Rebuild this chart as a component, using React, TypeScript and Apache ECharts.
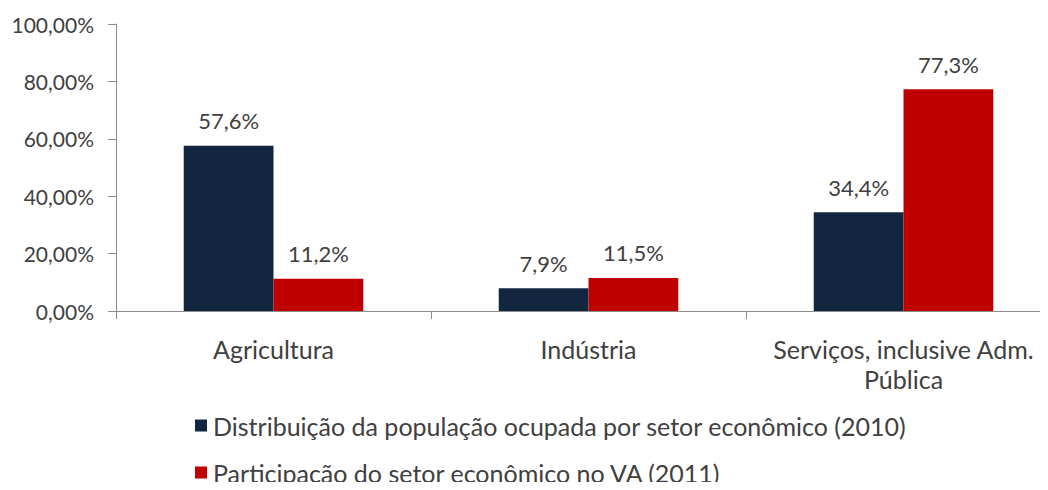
import React, { useEffect, useRef } from "react";
import * as echarts from "echarts";

const categories = ["Agricultura", "Indústria", "Serviços, inclusive Adm.\nPública"];
const seriesNames = [
  "Distribuição da população ocupada por setor econômico (2010)",
  "Participação do setor econômico no VA (2011)",
];
const populacao = [57.6, 7.9, 34.4];
const participacao = [11.2, 11.5, 77.3];
const yTicks = [0, 20, 40, 60, 80, 100];

const FONT = "Lato";
const TXT = "#404040";

export default function App() {
  const ref = useRef<HTMLDivElement>(null);
  useEffect(() => {
    if (!ref.current) return;
    const chart = echarts.init(ref.current, undefined, { renderer: "svg" });
    const label = {
      show: true,
      position: "top",
      distance: 14,
      color: TXT,
      fontFamily: FONT,
      fontSize: 22,
      formatter: (p: any) => p.value.toFixed(1).replace(".", ",") + "%",
    };
    chart.setOption({
      animation: false,
      textStyle: { fontFamily: FONT },
      grid: { left: 116, top: 24, bottom: 179, right: 4, containLabel: false },
      legend: {
        orient: "vertical",
        left: 190,
        top: 408,
        height: 200,
        itemWidth: 12,
        itemHeight: 12,
        itemGap: 22,
        icon: "rect",
        textStyle: { color: TXT, fontFamily: FONT, fontSize: 25, padding: [0, 0, 0, 1] },
        data: seriesNames,
      },
      xAxis: {
        type: "category",
        data: categories,
        axisLine: { lineStyle: { color: "#8c8c8c" } },
        axisTick: { show: true, length: 8, lineStyle: { color: "#8c8c8c" } },
        axisLabel: {
          interval: 0,
          color: TXT,
          fontFamily: FONT,
          fontSize: 25,
          margin: 23,
          lineHeight: 30,
        },
      },
      yAxis: {
        type: "value",
        min: yTicks[0],
        max: yTicks[yTicks.length - 1],
        interval: 20,
        splitLine: { show: false },
        axisLine: { show: true, lineStyle: { color: "#8c8c8c" } },
        axisTick: { show: true, length: 8, lineStyle: { color: "#8c8c8c" } },
        axisLabel: {
          color: TXT,
          fontFamily: FONT,
          fontSize: 21,
          margin: 22,
          formatter: (v: number) => v.toFixed(2).replace(".", ",") + "%",
        },
      },
      series: [
        {
          name: seriesNames[0],
          type: "bar",
          data: populacao,
          barGap: "0%",
          barCategoryGap: "43%",
          itemStyle: { color: "#13263f" },
          label,
        },
        {
          name: seriesNames[1],
          type: "bar",
          data: participacao,
          itemStyle: { color: "#c00000" },
          label,
        },
      ],
    });
    return () => chart.dispose();
  }, []);
  return (
    <div style={{ width: 1048, height: 490, margin: -8, overflow: "hidden", position: "relative" }}>
      <div ref={ref} style={{ width: 1065, height: 490 }} />
    </div>
  );
}
